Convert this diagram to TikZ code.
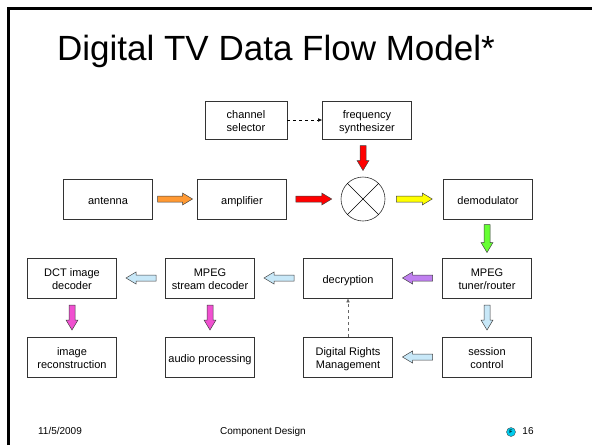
\documentclass[tikz,border=0pt]{standalone}
\usepackage{fontspec}
\setmainfont{Liberation Sans}
\usetikzlibrary{calc,arrows.meta}

\definecolor{arroworange}{HTML}{FF9933}
\definecolor{arrowred}{HTML}{FF0000}
\definecolor{arrowyellow}{HTML}{FFFF00}
\definecolor{arrowgreen}{HTML}{66FF33}
\definecolor{arrowblue}{HTML}{C8E8F8}
\definecolor{arrowpurple}{HTML}{C080F0}
\definecolor{arrowpink}{HTML}{F050D0}
\definecolor{logocyan}{HTML}{00CCEE}

\tikzset{
	block/.style={draw=black!80, line width=0.6pt, minimum width=89pt, minimum height=40pt,
		align=center, inner sep=1pt, font=\fontsize{11}{12.5}\selectfont,
		execute at begin node=\rule{0pt}{14pt}, execute at end node=\strut},
	twoline/.style={text height=26pt, text depth=4pt},
	footer/.style={font=\fontsize{10}{12}\selectfont, execute at begin node=\strut},
	signal/.style={dashed, line width=0.5pt, -{Latex[length=4pt,width=3.5pt]}}
}

% fat block arrow: colour, from, to, half length
\newcommand{\FATARROW}[4]{%
	\coordinate (fam) at ($(#2)!0.5!(#3)$);
	\coordinate (fas) at ($(fam)!#4!(#2)$);
	\coordinate (fae) at ($(fam)!#4!(#3)$);
	\coordinate (fan) at ($(fae)!10pt!(fas)$);
	\filldraw[fill=#1, draw=black!75, line width=0.5pt]
		($(fas)!3pt!90:(fae)$) -- ($(fan)!3pt!90:(fae)$) -- ($(fan)!6pt!90:(fae)$) -- (fae)
		-- ($(fan)!6pt!-90:(fae)$) -- ($(fan)!3pt!-90:(fae)$) -- ($(fas)!3pt!-90:(fae)$) -- cycle;
}

\begin{document}
\begin{tikzpicture}[x=1pt, y=-1pt]

\def\ORANGE{arroworange}
\def\RED{arrowred}
\def\YELLOW{arrowyellow}
\def\GREEN{arrowgreen}
\def\BLUE{arrowblue}
\def\PURPLE{arrowpurple}
\def\PINK{arrowpink}
	\useasboundingbox (0,0) rectangle (592,445);
	\draw[line width=2.5pt] (8.5,445) -- (8.5,8.5) -- (592,8.5);

	\node[font=\fontsize{35}{40}\selectfont, anchor=base] (title) at (276,60) {Digital TV Data Flow Model*};

	% top row
	\node[block, twoline, minimum width=82pt, minimum height=38pt] (chansel) at (246,120) {channel\\selector};
	\node[block, twoline, minimum height=38pt] (synth) at (367,120) {frequency\\synthesizer};

	% signal path
	\node[block] (antenna) at (108,199) {antenna};
	\node[block] (amp) at (242,199) {amplifier};
	\node[circle, draw=black!80, line width=0.6pt, minimum size=44pt] (mixer) at (363,199) {};
	\node[block] (demod) at (488,199) {demodulator};

	% decoding rows
	\node[block, twoline] (dct) at (72,278) {DCT image\\decoder};
	\node[block, twoline] (mpegdec) at (210,278) {MPEG\\stream decoder};
	\node[block] (decrypt) at (348,278) {decryption};
	\node[block, twoline] (tuner) at (487,278) {MPEG\\tuner/router};
	\node[block, twoline] (imgrec) at (72,357) {image\\reconstruction};
	\node[block] (audio) at (210,357) {audio processing};
	\node[block, twoline] (drm) at (348,357) {Digital Rights\\Management};
	\node[block, twoline] (session) at (487,357) {session\\control};

	\draw[line width=0.5pt] (mixer.north west) -- (mixer.south east);
	\draw[line width=0.5pt] (mixer.north east) -- (mixer.south west);

	\draw[signal] (chansel.east) -- (synth.west);
	\draw[signal, black!60] (drm.north) -- (decrypt.south);

	\coordinate (synthfoot) at (synth.south -| mixer.north);
	\coordinate (demodfoot) at (demod.south -| tuner.north);

	\FATARROW{\ORANGE}{antenna.east}{amp.west}{17.5pt}
	\FATARROW{\RED}{amp.east}{mixer.west}{18pt}
	\FATARROW{\RED}{synthfoot}{mixer.north}{12.5pt}
	\FATARROW{\YELLOW}{mixer.east}{demod.west}{18pt}
	\FATARROW{\GREEN}{demodfoot}{tuner.north}{14pt}
	\FATARROW{\PURPLE}{tuner.west}{decrypt.east}{15pt}
	\FATARROW{\BLUE}{decrypt.west}{mpegdec.east}{15pt}
	\FATARROW{\BLUE}{mpegdec.west}{dct.east}{15pt}
	\FATARROW{\BLUE}{tuner.south}{session.north}{12.5pt}
	\FATARROW{\BLUE}{session.west}{drm.east}{15pt}
	\FATARROW{\PINK}{dct.south}{imgrec.north}{12.5pt}
	\FATARROW{\PINK}{mpegdec.south}{audio.north}{12.5pt}

	% footer
	\node[footer] (date) at (60,432) {11/5/2009};
	\node[footer] (course) at (263,432) {Component Design};
	\node[circle, draw=black!70, fill=logocyan, line width=0.4pt, inner sep=0pt, minimum size=9pt,
		font=\fontsize{5}{5}\selectfont\bfseries] (logo) at (511,432) {F};
	\node[footer] (page) at (528,432) {16};

\end{tikzpicture}
\end{document}
